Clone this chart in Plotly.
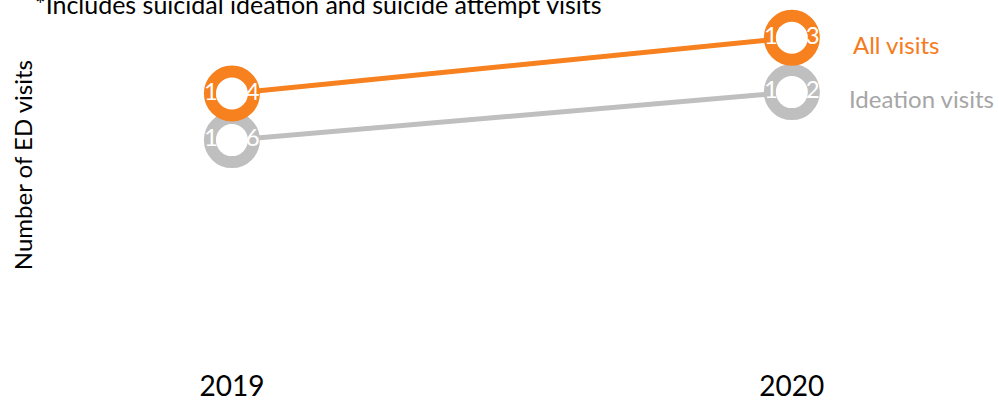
import plotly.graph_objects as go

years = [2019, 2020]
year_labels = ["2019", "2020"]
all_visits = [1404, 1713]
ideation_visits = [1146, 1412]
series_names = ["All visits", "Ideation visits"]

ORANGE = "#F7801F"
GRAY = "#BFBFBF"
FONT = "Lato, 'Open Sans', sans-serif"

fig = go.Figure()

for vals, color in [(ideation_visits, GRAY), (all_visits, ORANGE)]:
    fig.add_trace(go.Scatter(
        x=years, y=vals,
        mode="lines+markers+text",
        line=dict(color=color, width=5),
        marker=dict(size=44, color="white", line=dict(color=color, width=12)),
        text=[str(v) for v in vals],
        textposition="middle center",
        textfont=dict(color="white", size=24, family=FONT),
        cliponaxis=False,
        showlegend=False,
    ))

# End-of-line series labels
fig.add_annotation(x=years[1], y=all_visits[1], text=series_names[0], xref="x", yref="y",
                   xanchor="left", xshift=59, yshift=-7, showarrow=False,
                   font=dict(color="#F47B20", size=24, family=FONT))
fig.add_annotation(x=years[1], y=ideation_visits[1], text=series_names[1], xref="x", yref="y",
                   xanchor="left", xshift=55, yshift=-6, showarrow=False,
                   font=dict(color="#A6A6A6", size=24, family=FONT))

# Footnote-like top text (partially cropped)
fig.add_annotation(x=-0.0288, xref="paper", y=1, yref="paper", text="*Includes suicidal ideation and suicide attempt visits",
                   xanchor="left", yanchor="bottom", yshift=-21, showarrow=False,
                   font=dict(color="black", size=25, family=FONT))

# Y axis title
fig.add_annotation(x=-0.0405, xref="paper", y=0.524, yref="paper", text="Number of ED visits",
                   textangle=-90, xanchor="center", yanchor="middle", showarrow=False,
                   font=dict(color="black", size=24, family=FONT))

fig.update_layout(
    width=999, height=402,
    margin=dict(l=60, r=0, t=0, b=55, autoexpand=False),
    paper_bgcolor="white", plot_bgcolor="white",
    font=dict(family=FONT, color="black"),
)
fig.update_xaxes(range=[2018.693, 2020.370], tickvals=years, ticktext=year_labels,
                 showgrid=False, zeroline=False, showline=False, automargin=False,
                 tickfont=dict(size=28, family=FONT, color="black"), ticklabelstandoff=20)
fig.update_yaxes(range=[0, 1922], showticklabels=False, showgrid=False, zeroline=False,
                 showline=False, automargin=False)

fig.write_html("out.html", config={"displayModeBar": False},
               post_script="document.body.style.margin='0';")
